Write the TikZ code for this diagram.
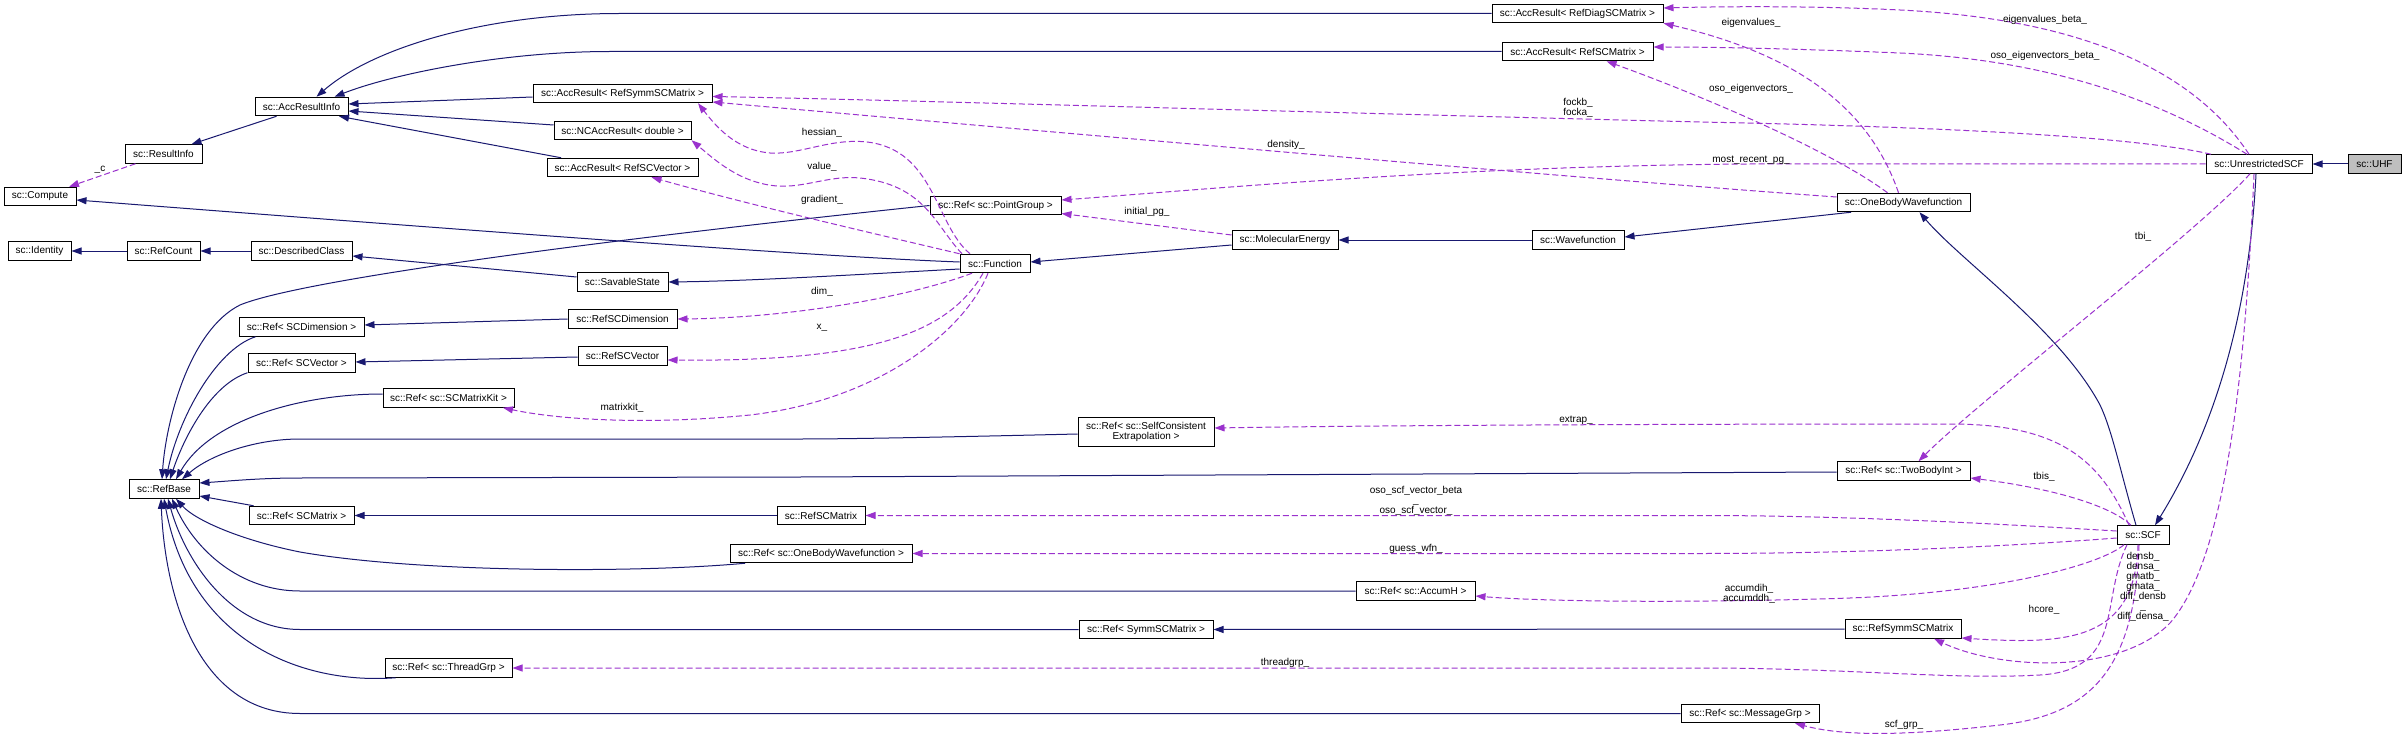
\documentclass[tikz,border=0pt]{standalone}
\usepackage{fontspec}
\setmainfont{Liberation Sans}
\usetikzlibrary{arrows.meta,calc}
\definecolor{inhblue}{HTML}{191970}
\definecolor{usepurple}{HTML}{9A32CD}
\definecolor{uhfgray}{HTML}{BFBFBF}
\tikzset{
  cls/.style={draw=black, line width=1pt, fill=white, minimum height=18.5pt, inner sep=0pt, align=center,
    font=\fontsize{10pt}{10pt}\selectfont},
  inh/.style={draw=inhblue, line width=1pt, -{Triangle[length=10pt,width=7pt]}, arrows={-{Triangle[length=10pt,width=7pt,fill=inhblue]}}},
  use/.style={draw=usepurple, line width=1pt, dash pattern=on 6pt off 3pt, arrows={-{Triangle[length=10pt,width=7pt,fill=usepurple]}}},
  lbl/.style={inner sep=0pt, align=center, font=\fontsize{10pt}{10pt}\selectfont}
}
\begin{document}
\begin{tikzpicture}[x=1pt,y=-1pt]
\useasboundingbox (0,0) rectangle (2405,738);
\fill[white] (0,0) rectangle (2405,738);
% ---- nodes ----
\node[cls, minimum width=171pt] (ARD) at (1577.5,13.5) {sc::AccResult< RefDiagSCMatrix >};
\node[cls, minimum width=151pt] (ARSC) at (1577.5,51.5) {sc::AccResult< RefSCMatrix >};
\node[cls, minimum width=179pt] (ARSymm) at (622.5,93.5) {sc::AccResult< RefSymmSCMatrix >};
\node[cls, minimum width=93pt] (ARI) at (301.5,106.5) {sc::AccResultInfo};
\node[cls, minimum width=137pt] (NCA) at (622.5,130.5) {sc::NCAccResult< double >};
\node[cls, minimum width=77pt] (RI) at (163.5,154) {sc::ResultInfo};
\node[cls, minimum width=106pt] (USCF) at (2259,164) {sc::UnrestrictedSCF};
\node[cls, minimum width=53pt, fill=uhfgray] (UHF) at (2374.5,164) {sc::UHF};
\node[cls, minimum width=151pt] (ARSCV) at (622.5,167.5) {sc::AccResult< RefSCVector >};
\node[cls, minimum width=72pt] (Comp) at (40,196.5) {sc::Compute};
\node[cls, minimum width=133pt] (OBW) at (1903.5,202.5) {sc::OneBodyWavefunction};
\node[cls, minimum width=131pt] (PG) at (995.5,205.5) {sc::Ref< sc::PointGroup >};
\node[cls, minimum width=106pt] (ME) at (1285,240) {sc::MolecularEnergy};
\node[cls, minimum width=92pt] (WF) at (1578,240) {sc::Wavefunction};
\node[cls, minimum width=63pt] (Id) at (39.5,251) {sc::Identity};
\node[cls, minimum width=73pt] (RC) at (163.5,251) {sc::RefCount};
\node[cls, minimum width=101pt] (DC) at (301.5,251) {sc::DescribedClass};
\node[cls, minimum width=70pt] (Func) at (995,263.5) {sc::Function};
\node[cls, minimum width=91pt] (SS) at (622.5,282) {sc::SavableState};
\node[cls, minimum width=109pt] (RSDim) at (622.5,319) {sc::RefSCDimension};
\node[cls, minimum width=125pt] (RSD) at (301.5,327) {sc::Ref< SCDimension >};
\node[cls, minimum width=89pt] (RSVec) at (622.5,356) {sc::RefSCVector};
\node[cls, minimum width=107pt] (RSV) at (301.5,363) {sc::Ref< SCVector >};
\node[cls, minimum width=131pt] (RSMK) at (448.5,398) {sc::Ref< sc::SCMatrixKit >};
\node[cls, minimum width=136pt, minimum height=29pt] (SCE) at (1146,431.5) {sc::Ref< sc::SelfConsistent\\Extrapolation >};
\node[cls, minimum width=133pt] (TBI) at (1903.5,471) {sc::Ref< sc::TwoBodyInt >};
\node[cls, minimum width=70pt] (RB) at (164,489) {sc::RefBase};
\node[cls, minimum width=105pt] (RSM) at (301.5,515.5) {sc::Ref< SCMatrix >};
\node[cls, minimum width=88pt] (RSCM) at (821,515.5) {sc::RefSCMatrix};
\node[cls, minimum width=52pt] (SCF) at (2143,535) {sc::SCF};
\node[cls, minimum width=182pt] (ROBW) at (821,553.5) {sc::Ref< sc::OneBodyWavefunction >};
\node[cls, minimum width=119pt] (AH) at (1415.5,591) {sc::Ref< sc::AccumH >};
\node[cls, minimum width=134pt] (RSSMt) at (1146,629.5) {sc::Ref< SymmSCMatrix >};
\node[cls, minimum width=116pt] (RSSM) at (1903,629) {sc::RefSymmSCMatrix};
\node[cls, minimum width=127pt] (RTG) at (448.5,668) {sc::Ref< sc::ThreadGrp >};
\node[cls, minimum width=138pt] (RMG) at (1750,713.5) {sc::Ref< sc::MessageGrp >};
% ---- inheritance edges ----
\draw[inh] ([xshift=-25pt]ARI.south) -- ([xshift=28pt]RI.north);
\draw[inh] (ARD.west) -- (620,13.5) .. controls (480,13.5) and (370,50) .. ([xshift=15pt]ARI.north);
\draw[inh] (ARSC.west) -- (610,51.5) .. controls (500,51.5) and (390,75) .. ([xshift=33pt]ARI.north);
\draw[inh] ([yshift=-3.5pt]ARSymm.west) -- ([yshift=2.5pt]ARI.east);
\draw[inh] ([yshift=5.5pt]NCA.west) -- ([yshift=-4.5pt]ARI.east);
\draw[inh] ([xshift=-61.5pt]ARSCV.north) -- ([xshift=37.5pt]ARI.south);
\draw[inh] ([yshift=1.5pt]Func.west) .. controls (800,256) and (400,225) .. ([yshift=-3.5pt]Comp.east);
\draw[inh] (RC.west) -- (Id.east);
\draw[inh] (DC.west) -- (RC.east);
\draw[inh] ([yshift=5pt]SS.west) -- ([yshift=-5pt]DC.east);
\draw[inh] ([yshift=-5.5pt]Func.west) .. controls (850,275) and (750,281) .. (SS.east);
\draw[inh] ([yshift=-5pt]ME.west) -- ([yshift=1.5pt]Func.east);
\draw[inh] (WF.west) -- (ME.east);
\draw[inh] ([xshift=-52.5pt]OBW.south) -- ([yshift=3pt]WF.east);
\draw[inh] ([xshift=-7pt]SCF.north) .. controls (2120,470) and (2112,430) .. (2100,405) .. controls (2060,330) and (1960,260) .. ([xshift=16pt]OBW.south);
\draw[inh] ([xshift=-3pt]USCF.south) .. controls (2250,300) and (2220,420) .. ([xshift=12pt]SCF.north);
\draw[inh] (UHF.west) -- (USCF.east);
\draw[inh] (RSDim.west) -- ([yshift=2pt]RSD.east);
\draw[inh] ([yshift=-1pt]RSVec.west) -- ([yshift=1pt]RSV.east);
\draw[inh] (RSCM.west) -- (RSM.east);
\draw[inh] (RSSM.west) -- (RSSMt.east);
% ---- RefBase fan ----
\draw[inh] (PG.west) .. controls (600,240) and (300,280) .. (240,305) .. controls (190,330) and (166,420) .. ([xshift=-2pt]RB.north);
\draw[inh] ([xshift=-46pt]RSD.south) .. controls (215,350) and (178,420) .. ([xshift=2pt]RB.north);
\draw[inh] (RSV.south west) .. controls (210,385) and (183,440) .. ([xshift=6pt]RB.north);
\draw[inh] ([yshift=4pt]RSMK.west) .. controls (300,394) and (210,420) .. ([xshift=12pt]RB.north);
\draw[inh] ([yshift=-2.5pt]SCE.west) .. controls (950,437) and (850,439) .. (800,439) -- (300,439) .. controls (255,439) and (210,455) .. ([xshift=18pt]RB.north);
\draw[inh] ([yshift=-1pt]TBI.west) -- (800,477) -- (300,478) .. controls (260,478) and (230,481) .. ([yshift=6pt]RB.east);
\draw[inh] ([xshift=-48pt]RSM.north) -- ([yshift=-7pt]RB.east);
\draw[inh] ([xshift=-76pt]ROBW.south) .. controls (640,573) and (420,573) .. (300,552) .. controls (240,540) and (195,520) .. ([xshift=12pt]RB.south);
\draw[inh] (AH.west) -- (300,591) .. controls (240,591) and (195,550) .. ([xshift=8pt]RB.south);
\draw[inh] (RSSMt.west) -- (300,629.5) .. controls (230,629.5) and (185,560) .. ([xshift=4pt]RB.south);
\draw[inh] ([xshift=-53pt]RTG.south) .. controls (300,685) and (190,640) .. (RB.south);
\draw[inh] (RMG.west) -- (300,713.5) .. controls (200,713.5) and (165,600) .. ([xshift=-3pt]RB.south);
% ---- usage edges ----
\draw[use] ([xshift=-28pt]RI.south) -- ([xshift=29pt]Comp.north);
\draw[use] ([xshift=-10pt]USCF.north) .. controls (2200,80) and (2100,20) .. (1900,10) .. controls (1800,5) and (1700,7) .. ([yshift=5.5pt]ARD.east);
\draw[use] ([xshift=-5pt]OBW.north) .. controls (1870,110) and (1800,55) .. (ARD.south east);
\draw[use] ([xshift=-12pt]USCF.north) .. controls (2160,100) and (2050,60) .. (1900,53) .. controls (1780,48) and (1700,47) .. ([yshift=4.5pt]ARSC.east);
\draw[use] ([xshift=-16pt]OBW.north) .. controls (1830,150) and (1700,95) .. ([xshift=29pt]ARSC.south);
\draw[use] ([xshift=-48pt]USCF.north) .. controls (2150,140) and (2000,128) .. (1700,122) .. controls (1300,112) and (900,100) .. ([yshift=-3pt]ARSymm.east);
\draw[use] ([yshift=5.5pt]OBW.west) .. controls (1600,180) and (1200,145) .. ([yshift=-8.5pt]ARSymm.east);
\draw[use] (USCF.west) -- (1750,164) .. controls (1450,166) and (1200,190) .. ([yshift=5.5pt]PG.east);
\draw[use] ([yshift=5pt]ME.west) -- ([yshift=-8pt]PG.east);
\draw[use] ([xshift=-25pt]Func.north) .. controls (935,225) and (935,150) .. (867,142) .. controls (830,138) and (800,155) .. (770,153) .. controls (735,150) and (715,125) .. ([xshift=75.5pt]ARSymm.south);
\draw[use] ([xshift=-33pt]Func.north) .. controls (935,225) and (925,185) .. (860,178) .. controls (830,175) and (805,188) .. (777,186) .. controls (740,183) and (715,160) .. ([xshift=69pt]NCA.south);
\draw[use] (Func.north west) .. controls (880,235) and (750,205) .. ([xshift=29pt]ARSCV.south);
\draw[use] ([xshift=-23pt]Func.south) .. controls (900,300) and (780,318) .. (RSDim.east);
\draw[use] ([xshift=-12pt]Func.south) .. controls (950,330) and (880,362) .. ([yshift=-4pt]RSVec.east);
\draw[use] ([xshift=-7pt]Func.south) .. controls (965,330) and (880,400) .. (750,415) .. controls (650,425) and (560,420) .. ([xshift=54.5pt]RSMK.south);
\draw[use] ([xshift=-9pt]USCF.south) .. controls (2200,230) and (1980,400) .. ([xshift=15pt]TBI.north);
\draw[use] ([xshift=-12pt]SCF.north) .. controls (2110,505) and (2050,488) .. ([yshift=-7pt]TBI.east);
\draw[use] ([xshift=-14pt]SCF.north) .. controls (2100,460) and (2060,424) .. (1950,424) .. controls (1700,424) and (1400,425) .. ([yshift=3.5pt]SCE.east);
\draw[use] ([yshift=4pt]SCF.west) .. controls (2000,524) and (1850,515.5) .. (1700,515.5) -- (RSCM.east);
\draw[use] ([yshift=-3pt]SCF.west) .. controls (2000,547) and (1850,553.5) .. (1700,553.5) -- (ROBW.east);
\draw[use] ([xshift=-19pt]SCF.south) .. controls (2100,565) and (2000,592) .. (1850,598) .. controls (1700,603) and (1550,602) .. ([yshift=-5pt]AH.east);
\draw[use] ([xshift=-5pt]SCF.south) .. controls (2135,640) and (2070,645) .. ([yshift=-9pt]RSSM.east);
\draw[use] ([xshift=-5pt]USCF.south) .. controls (2245,380) and (2225,560) .. (2170,623) .. controls (2120,675) and (2000,670) .. ([xshift=31pt]RSSM.south);
\draw[use] ([xshift=-16pt]SCF.south) .. controls (2100,600) and (2125,670) .. (2040,675) .. controls (1950,680) and (1850,668) .. (1700,668) -- (RTG.east);
\draw[use] ([xshift=-4pt]SCF.south) .. controls (2135,670) and (2090,715) .. (2000,725) .. controls (1920,734) and (1850,738) .. ([xshift=45pt]RMG.south);
% ---- labels ----
\node[lbl] (l1) at (100,170) {\_c};
\node[lbl] (l2) at (2045,20) {eigenvalues\_beta\_};
\node[lbl] (l3) at (1751,23) {eigenvalues\_};
\node[lbl] (l4) at (2045,56) {oso\_eigenvectors\_beta\_};
\node[lbl] (l5) at (1751,89) {oso\_eigenvectors\_};
\node[lbl] (l6) at (1578,108) {fockb\_\\focka\_};
\node[lbl] (l7) at (1286,145) {density\_};
\node[lbl] (l8) at (1751,160) {most\_recent\_pg\_};
\node[lbl] (l9) at (1147,212) {initial\_pg\_};
\node[lbl] (l10) at (822,133) {hessian\_};
\node[lbl] (l11) at (822,167) {value\_};
\node[lbl] (l12) at (822,200) {gradient\_};
\node[lbl] (l13) at (822,292) {dim\_};
\node[lbl] (l14) at (822,328) {x\_};
\node[lbl] (l15) at (622,408) {matrixkit\_};
\node[lbl] (l16) at (2143,237) {tbi\_};
\node[lbl] (l17) at (2044,477) {tbis\_};
\node[lbl] (l18) at (1576,420) {extrap\_};
\node[lbl] (l19) at (1416,501) {oso\_scf\_vector\_beta\\\_\\oso\_scf\_vector\_};
\node[lbl] (l20) at (1416,549) {guess\_wfn\_};
\node[lbl] (l21) at (1749,594) {accumdih\_\\accumddh\_};
\node[lbl] (l22) at (2044,610) {hcore\_};
\node[lbl] (l23) at (2143,587) {densb\_\\densa\_\\gmatb\_\\gmata\_\\diff\_densb\\\_\\diff\_densa\_};
\node[lbl] (l24) at (1285,663) {threadgrp\_};
\node[lbl] (l25) at (1904,725) {scf\_grp\_};
\end{tikzpicture}
\end{document}
